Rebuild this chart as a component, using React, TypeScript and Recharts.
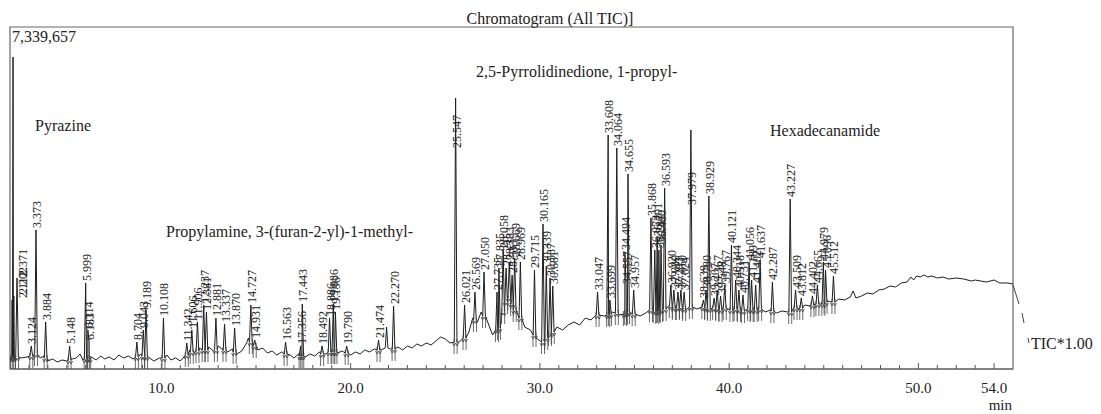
import { ComposedChart, Line, Scatter, XAxis, YAxis, ReferenceArea } from "recharts";

// intensity in thousands of counts, retention time in minutes
const FULL_SCALE = 7339.657;
const T_START = 2;
const T_END = 55;
const majorTicks = [10, 20, 30, 40, 50, 54];
const minorTicks = Array.from({ length: 52 }, (_, i) => i + 3);

const SERIF = "'Liberation Serif', 'Times New Roman', serif";

// baseline between peaks [min, kcounts]
const baseline: [number, number][] = [
  [2.0, 193], [2.3, 279], [2.6, 236], [2.9, 258], [3.1, 300], [3.4, 365], [3.6, 236], [3.8, 279],
  [4.0, 172], [4.25, 215], [4.5, 150], [4.75, 193], [5.0, 172], [5.3, 215], [5.5, 236], [5.7, 322],
  [5.85, 193], [6.3, 258], [6.55, 193], [6.8, 279], [7.0, 215], [7.25, 258], [7.5, 193], [7.75, 300],
  [8.0, 236], [8.25, 279], [8.5, 215], [8.9, 322], [9.3, 258], [9.6, 172], [9.9, 236], [10.3, 300],
  [10.5, 193], [10.75, 236], [11.0, 172], [11.2, 258], [11.5, 408], [11.75, 365], [12.0, 451],
  [12.25, 365], [12.5, 472], [12.75, 386], [13.0, 494], [13.25, 408], [13.5, 365], [13.75, 429],
  [14.0, 322], [14.25, 386], [14.5, 558], [14.6, 665], [14.85, 537], [15.1, 408], [15.35, 451],
  [15.6, 343], [15.85, 386], [16.1, 300], [16.35, 365], [16.8, 300], [17.0, 236], [17.25, 322],
  [17.6, 258], [17.85, 322], [18.1, 279], [18.35, 365], [18.7, 322], [19.0, 408], [19.3, 343],
  [19.55, 386], [20.0, 300], [20.25, 365], [20.5, 322], [20.75, 408], [21.0, 365], [21.25, 429],
  [21.6, 408], [22.1, 429], [22.5, 472], [22.75, 408], [23.0, 494], [23.25, 451], [23.5, 537],
  [23.75, 494], [24.0, 558], [24.25, 515], [24.5, 601], [24.75, 687], [25.0, 644], [25.25, 558],
  [25.75, 579], [26.0, 622], [26.25, 794], [26.45, 1094], [26.7, 1009], [26.9, 1223], [27.2, 1052],
  [27.5, 730], [27.7, 837], [27.9, 1094], [28.1, 1481], [28.3, 1567], [28.6, 1309], [28.9, 1094],
  [29.2, 901], [29.5, 837], [29.8, 665], [30.1, 515], [30.4, 730], [30.9, 901], [31.2, 837],
  [31.5, 944], [31.8, 1009], [32.1, 944], [32.4, 1094], [32.7, 1052], [33.0, 1180], [33.4, 1137],
  [33.8, 1223], [34.2, 1159], [34.7, 1223], [35.0, 1180], [35.3, 1137], [35.6, 1202], [35.9, 1266],
  [36.2, 1223], [36.5, 1288], [36.8, 1352], [37.1, 1288], [37.4, 1331], [37.7, 1266], [38.0, 1331],
  [38.3, 1288], [38.6, 1331], [38.9, 1266], [39.2, 1309], [39.5, 1245], [39.8, 1309], [40.1, 1266],
  [40.4, 1288], [40.7, 1223], [41.0, 1288], [41.3, 1245], [41.6, 1288], [41.9, 1223], [42.2, 1266],
  [42.5, 1202], [42.8, 1245], [43.1, 1223], [43.4, 1309], [43.7, 1288], [44.0, 1373], [44.3, 1352],
  [44.6, 1416], [44.9, 1395], [45.2, 1459], [45.5, 1438], [45.8, 1502], [46.1, 1481], [46.4, 1545],
  [46.55, 1674], [46.7, 1524], [47.0, 1567], [47.3, 1631], [47.6, 1610], [47.9, 1695], [48.2, 1717],
  [48.5, 1781], [48.8, 1760], [49.1, 1846], [49.4, 1867], [49.6, 1974], [49.75, 1910], [49.9, 1996],
  [50.1, 1974], [50.3, 2017], [50.5, 1974], [50.7, 1996], [51.0, 1953], [51.3, 1974], [51.6, 1931],
  [52.0, 1953], [52.4, 1931], [52.8, 1888], [53.0, 1910], [53.3, 1888], [53.6, 1867], [54.0, 1910],
  [54.3, 1846], [54.7, 1846], [55.0, 1824],
];

// integrated peaks [rt, apex, foot]
const peaks: [number, number, number][] = [
  [2.112, 1481, 236], [2.202, 1567, 236], [2.371, 1953, 258], [3.124, 494, 279], [3.373, 2983, 322],
  [3.884, 1009, 236], [5.148, 494, 193], [5.999, 1846, 215], [6.114, 837, 236], [6.183, 579, 215],
  [8.704, 579, 258], [9.043, 837, 279], [9.189, 1266, 258], [10.108, 1094, 236], [11.342, 558, 300],
  [11.606, 837, 365], [11.906, 1009, 386], [12.237, 1373, 408], [12.381, 1223, 408], [12.881, 1094, 408],
  [13.337, 966, 408], [13.87, 880, 365], [14.727, 1373, 579], [14.931, 622, 494], [16.563, 579, 322],
  [17.356, 494, 279], [17.443, 1395, 279], [18.492, 494, 322], [18.886, 1094, 365], [19.086, 1395, 365],
  [19.196, 1223, 365], [19.79, 494, 343], [21.474, 622, 408], [22.27, 1352, 429], [25.547, 5816, 579],
  [26.021, 1373, 665], [26.569, 1652, 1052], [27.05, 2082, 1137], [27.735, 1652, 837], [27.835, 2167, 880],
  [28.058, 2554, 1223], [28.215, 2167, 1438], [28.383, 2296, 1524], [28.533, 2017, 1395], [28.669, 2382, 1266],
  [28.969, 2296, 1094], [29.715, 2125, 730], [30.165, 3112, 579], [30.339, 2210, 665], [30.537, 1953, 751],
  [30.681, 1781, 794], [33.047, 1652, 1159], [33.608, 5022, 1159], [33.699, 1481, 1180], [34.064, 4743, 1202],
  [34.494, 2511, 1180], [34.557, 1781, 1202], [34.655, 4185, 1223], [34.957, 1695, 1180], [35.868, 3241, 1266],
  [36.073, 2554, 1245], [36.201, 2811, 1223], [36.287, 2554, 1245], [36.4, 2661, 1266], [36.593, 3884, 1288],
  [36.92, 1803, 1352], [37.08, 1695, 1309], [37.293, 1652, 1309], [37.45, 1695, 1331], [37.624, 1652, 1288],
  [37.979, 5129, 1331], [38.639, 1481, 1331], [38.78, 1695, 1309], [38.929, 3713, 1288], [39.207, 1524, 1309],
  [39.367, 1695, 1288], [39.548, 1567, 1266], [39.767, 1803, 1309], [40.121, 2661, 1266], [40.344, 1910, 1288],
  [40.518, 1695, 1266], [40.731, 1588, 1245], [41.056, 2296, 1288], [41.189, 1910, 1266], [41.402, 1803, 1266],
  [41.637, 2339, 1288], [42.287, 1867, 1245], [43.227, 3648, 1223], [43.509, 1695, 1309], [43.812, 1524, 1309],
  [44.402, 1567, 1373], [44.665, 1803, 1395], [44.979, 2296, 1395], [45.096, 2125, 1438], [45.512, 1996, 1438],
];

// peaks drawn without a retention-time label
const unlabeledPeaks: [number, number, number][] = [
  [2.16, 6696, 193], [21.9, 901, 451],
];

// where the apex runs past the label, the label sits lower on the peak line
const labelHeights: Record<string, number> = { "25.547": 4700, "37.979": 3477 };

const HALF_WIDTH = 0.07;
const MARK_OFFSET = 0.08;
const allPeaks = [...peaks, ...unlabeledPeaks];

const trace = [
  ...baseline
    .filter(([t]) => !allPeaks.some(([p]) => Math.abs(t - p) <= HALF_WIDTH))
    .map(([t, v]) => ({ t, v })),
  ...allPeaks.flatMap(([t, top, foot]) => [
    { t: t - HALF_WIDTH, v: foot },
    { t, v: top },
    { t: t + HALF_WIDTH, v: foot },
  ]),
].sort((a, b) => a.t - b.t);

const labelPoints = peaks.map(([t, top]) => ({
  t,
  v: labelHeights[t.toFixed(3)] ?? top,
  label: t.toFixed(3),
}));

// integration start/end marks under each peak
const markerPoints = peaks.flatMap(([t, , foot]) => [
  { t: Math.max(T_START, t - MARK_OFFSET), v: foot },
  { t: t + MARK_OFFSET, v: foot },
]);

function AxisTick(props: any) {
  const { x, y, payload } = props;
  const major = majorTicks.includes(payload.value);
  return (
    <g>
      <line x1={x} x2={x} y1={y} y2={y - (major ? 6 : 4)} stroke="#555" strokeWidth={1} />
      {major && (
        <text x={x} y={y + 24} textAnchor="middle" fontSize={15} fontFamily={SERIF} fill="#222">
          {payload.value.toFixed(1)}
        </text>
      )}
    </g>
  );
}

function PeakLabel(props: any) {
  const { cx, cy, payload } = props;
  const x = Math.max(cx + 5, 19);
  const y = cy - 2;
  return (
    <text x={x} y={y} transform={`rotate(-90 ${x} ${y})`} fontSize={12} fontFamily={SERIF} fill="#222">
      {payload.label}
    </text>
  );
}

function PeakMarker(props: any) {
  const { cx, cy } = props;
  return (
    <g stroke="#444" strokeWidth={0.8} fill="none">
      <line x1={cx} x2={cx} y1={cy - 3} y2={cy + 12} />
      <polyline points={`${cx - 1.5},${cy + 1} ${cx},${cy + 4} ${cx + 1.5},${cy + 1}`} />
    </g>
  );
}

export default function App() {
  return (
    <div style={{ position: "relative", width: 1093, height: 406, background: "#fff" }}>
      <ComposedChart width={1093} height={398} margin={{ top: 19, right: 88, bottom: 0, left: 2 }}>
        <XAxis
          type="number"
          dataKey="t"
          domain={[T_START, T_END]}
          allowDataOverflow
          ticks={minorTicks}
          interval={0}
          tick={<AxisTick />}
          tickLine={false}
          tickSize={0}
          tickMargin={0}
          axisLine={{ stroke: "#555" }}
          height={37}
        />
        <YAxis type="number" domain={[0, FULL_SCALE]} allowDataOverflow hide />
        <ReferenceArea
          x1={T_START}
          x2={T_END}
          y1={0}
          y2={FULL_SCALE}
          fill="none"
          stroke="#666"
          strokeWidth={1.2}
        />
        <Line
          data={trace}
          dataKey="v"
          type="linear"
          dot={false}
          stroke="#1e1e1e"
          strokeWidth={1}
          isAnimationActive={false}
        />
        <Scatter data={markerPoints} dataKey="v" shape={<PeakMarker />} isAnimationActive={false} />
        <Scatter data={labelPoints} dataKey="v" shape={<PeakLabel />} isAnimationActive={false} />
      </ComposedChart>
      <svg
        width={1093}
        height={406}
        style={{ position: "absolute", left: 0, top: 0, pointerEvents: "none" }}
        fontFamily={SERIF}
        fill="#222"
      >
        <text x={542} y={16} textAnchor="middle" fontSize={16}>Chromatogram (All TIC)]</text>
        <text x={4} y={34} fontSize={16}>7,339,657</text>
        <text x={27} y={123} fontSize={16}>Pyrazine</text>
        <text x={158} y={229} fontSize={16}>Propylamine, 3-(furan-2-yl)-1-methyl-</text>
        <text x={468} y={69} fontSize={16}>2,5-Pyrrolidinedione, 1-propyl-</text>
        <text x={762} y={128} fontSize={16}>Hexadecanamide</text>
        <line x1={1005} y1={277} x2={1011} y2={296} stroke="#444" strokeWidth={1} />
        <line x1={1014} y1={305} x2={1016} y2={315} stroke="#444" strokeWidth={1} />
        <line x1={1020} y1={330} x2={1021} y2={335} stroke="#444" strokeWidth={1} />
        <text x={1023} y={341} fontSize={16}>TIC*1.00</text>
        <text x={1004} y={402} textAnchor="end" fontSize={15}>min</text>
      </svg>
    </div>
  );
}
